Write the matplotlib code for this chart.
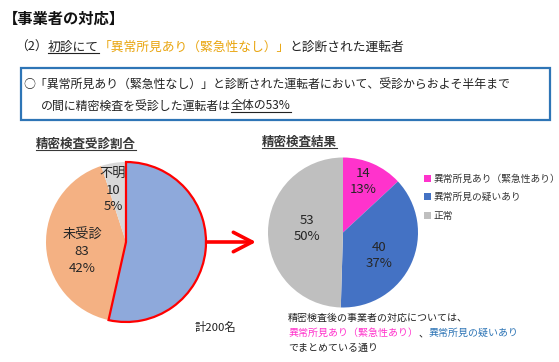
import numpy as np
import matplotlib
matplotlib.use("Agg")
import matplotlib.pyplot as plt

plt.rcParams['font.family'] = ['Noto Sans CJK JP', 'DejaVu Sans']

# Data
left_labels = ["受診済", "未受診", "不明"]
left_values = [107, 83, 10]
left_pct = ["53%", "42%", "5%"]
left_colors = ["#8EA9DB", "#F4B183", "#D9D9D9"]

right_labels = ["異常所見あり（緊急性あり）", "異常所見の疑いあり", "正常"]
right_values = [14, 40, 53]
right_pct = ["13%", "37%", "50%"]
right_colors = ["#FF33CC", "#4472C4", "#BFBFBF"]

W, H = 559, 362
fig = plt.figure(figsize=(W / 100, H / 100), dpi=100)
fig.patch.set_facecolor("white")

# overlay axes in pixel coordinates
ax0 = fig.add_axes([0, 0, 1, 1])
ax0.set_xlim(0, W)
ax0.set_ylim(H, 0)
ax0.axis("off")

fig.canvas.draw()
renderer = fig.canvas.get_renderer()


def rich(x, y, parts, size, weight="normal"):
    # parts: (text, color, underline)
    for s, color, ul in parts:
        t = ax0.text(x, y, s, color=color, fontsize=size, weight=weight,
                     ha="left", va="center")
        bb = t.get_window_extent(renderer=renderer)
        (x0, y0), (x1, y1) = ax0.transData.inverted().transform(
            [[bb.x0, bb.y0], [bb.x1, bb.y1]])
        if ul:
            ax0.plot([x0, x1], [y0 - 1, y0 - 1], color=color, lw=0.8)
        x = x1


# titles
rich(3, 19, [("【事業者の対応】", "#111111", False)], 11, weight="bold")
rich(15, 47, [("（2）", "#222222", False),
              ("初診にて", "#222222", True),
              ("「異常所見あり（緊急性なし）」", "#E9A50F", False),
              ("と診断された運転者", "#222222", False)], 9.2)

# blue box
box = plt.Rectangle((21, 68), 529, 52, fill=False, edgecolor="#2E75B6", lw=1.6)
ax0.add_patch(box)
rich(23, 84, [("○「異常所見あり（緊急性なし）」と診断された運転者において、受診からおよそ半年まで",
               "#222222", False)], 8.6)
rich(41, 106, [("の間に精密検査を受診した運転者は", "#222222", False),
               ("全体の53%", "#222222", True)], 8.6)

# chart titles
rich(36, 144, [("精密検査受診割合", "#383838", True)], 9, weight="bold")
rich(262, 142, [("精密検査結果", "#383838", True)], 9, weight="bold")


def pie_axes(cx, cy, r, pad=1.05):
    s = r * pad
    ax = fig.add_axes([(cx - s) / W, 1 - (cy + s) / H, 2 * s / W, 2 * s / H])
    return ax, pad


def label(ax, xy, lines, spacing_px, color="#262626", weights=None, size=9.5):
    n = len(lines)
    for i, line in enumerate(lines):
        off = ((n - 1) / 2 - i) * spacing_px * 0.72
        w = weights[i] if weights else "normal"
        ax.annotate(line, xy=xy, xytext=(0, off), textcoords="offset points",
                    ha="center", va="center", fontsize=size, color=color,
                    weight=w)


# left pie
axl, pad = pie_axes(126, 242, 80)
wl, _ = axl.pie(left_values, colors=left_colors, startangle=90, counterclock=False,
                wedgeprops=dict(linewidth=0))
wl[0].set_edgecolor("#FF0000")
wl[0].set_linewidth(1.6)
wl[0].set_zorder(5)
axl.set_xlim(-pad, pad)
axl.set_ylim(-pad, pad)

left_pos = [(0.46, -0.12), (-0.55, -0.12), (-0.16, 0.65)]
for i in range(3):
    lines = [left_labels[i], str(left_values[i]), left_pct[i]]
    if i == 0:
        label(axl, left_pos[i], lines, 16.5, color="#FF0000",
              weights=["normal", "bold", "bold"])
    else:
        label(axl, left_pos[i], lines, 16.5)

ax0.text(215, 327, "計200名", fontsize=8.2, ha="center", va="center", color="#222222")

# arrow
ax0.annotate("", xy=(256, 242), xytext=(206, 242),
             arrowprops=dict(arrowstyle="->,head_length=1.35,head_width=0.7",
                             color="#FF0000", lw=2.6, shrinkA=0, shrinkB=0))

# right pie
axr, pad = pie_axes(343, 232.5, 75)
wr, _ = axr.pie(right_values, colors=right_colors, startangle=90, counterclock=False,
                wedgeprops=dict(linewidth=0))
axr.set_xlim(-pad, pad)
axr.set_ylim(-pad, pad)

right_pos = [(0.27, 0.68), (0.48, -0.31), (-0.48, 0.05)]
for i in range(3):
    label(axr, right_pos[i], [str(right_values[i]), right_pct[i]], 16)

fig.legend(wr, right_labels, loc="upper left", bbox_to_anchor=(424 / W, 1 - 174 / H),
           frameon=False, fontsize=7, handlelength=0.7, handleheight=0.7,
           handletextpad=0.3, labelspacing=0.85, borderpad=0, borderaxespad=0,
           labelcolor="#333333")

# note under right pie
rich(288, 318, [("精密検査後の事業者の対応については、", "#222222", False)], 7.2)
rich(288, 333, [("異常所見あり（緊急性あり）", "#FF33CC", False),
                ("、", "#222222", False),
                ("異常所見の疑いあり", "#2E75B6", False)], 7.2)
rich(288, 348, [("でまとめている通り", "#222222", False)], 7.2)

fig.savefig("out.png", dpi=100)
